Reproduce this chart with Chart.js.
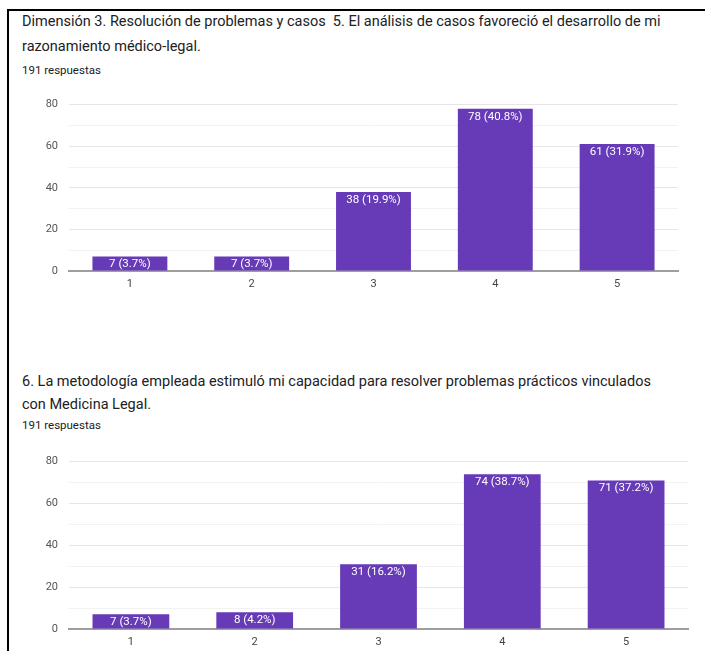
<!DOCTYPE html>
<html>
<head>
<meta charset="utf-8">
<script src="https://cdn.jsdelivr.net/npm/chart.js@4/dist/chart.umd.min.js"></script>
<style>
  html, body { margin: 0; padding: 0; background: #fff; }
  body { width: 705px; height: 651px; position: relative; overflow: hidden; font-family: Roboto, "Noto Sans", sans-serif; }
  .frame-top { position: absolute; left: 7px; top: 9px; width: 698px; height: 2px; background: #000; }
  .frame-left { position: absolute; left: 7px; top: 9px; width: 2px; height: 642px; background: #000; }
  .title { position: absolute; left: 22px; font-size: 14.5px; color: #202124; line-height: 20px; white-space: nowrap; }
  .sub { position: absolute; left: 22px; font-size: 11.5px; color: #202124; line-height: 14px; white-space: nowrap; }
  canvas { position: absolute; left: 0; }
</style>
</head>
<body>
<div class="frame-top"></div>
<div class="frame-left"></div>

<div class="title" style="top:12px">Dimensión 3. Resolución de problemas y casos&nbsp; 5. El análisis de casos favoreció el desarrollo de mi</div>
<div class="title" style="top:37px">razonamiento médico-legal.</div>
<div class="sub" style="top:63px">191 respuestas</div>
<canvas id="c1" width="705" height="209" style="top:87px"></canvas>

<div class="title" style="top:372px">6. La metodología empleada estimuló mi capacidad para resolver problemas prácticos vinculados</div>
<div class="title" style="top:395px">con Medicina Legal.</div>
<div class="sub" style="top:418px">191 respuestas</div>
<canvas id="c2" width="705" height="210" style="top:444px"></canvas>

<script>
// Likert answer options and response counts
const categories = ['1', '2', '3', '4', '5'];
const countsQ5 = [7, 7, 38, 78, 61];
const countsQ6 = [7, 8, 31, 74, 71];
const totalResponses = 191;
const yTicks = [0, 20, 40, 60, 80];

const PURPLE = '#673ab7';

// Writes "n (p%)" in white just inside the top of each bar
const barValueLabels = {
  id: 'barValueLabels',
  afterDatasetsDraw(chart) {
    const ctx = chart.ctx;
    const meta = chart.getDatasetMeta(0);
    const data = chart.data.datasets[0].data;
    ctx.save();
    ctx.fillStyle = '#ffffff';
    ctx.font = '11.5px Roboto, "Noto Sans", sans-serif';
    ctx.textAlign = 'center';
    ctx.textBaseline = 'middle';
    meta.data.forEach((bar, i) => {
      const v = data[i];
      const pct = (v / totalResponses * 100).toFixed(1);
      ctx.fillText(v + ' (' + pct + '%)', bar.x, bar.y + 8);
    });
    ctx.restore();
  }
};

function makeChart(id, counts, opts) {
  return new Chart(document.getElementById(id), {
    type: 'bar',
    data: {
      labels: categories,
      datasets: [{
        data: counts,
        backgroundColor: PURPLE,
        borderWidth: 0,
        categoryPercentage: 1,
        barPercentage: opts.barPct
      }]
    },
    options: {
      responsive: false,
      animation: false,
      layout: { padding: { left: 0, right: opts.padRight, top: opts.padTop, bottom: 0 } },
      plugins: { legend: { display: false }, tooltip: { enabled: false } },
      scales: {
        x: {
          grid: { display: false, drawTicks: false },
          border: { display: true, color: '#9e9e9e', width: 2 },
          ticks: { color: '#444', font: { size: 11, family: 'Roboto' }, padding: 7 },
          afterFit(s) { s.height = opts.xHeight; }
        },
        y: {
          min: 0,
          max: 80,
          afterBuildTicks(s) {
            const t = [];
            for (let v = 0; v <= 80; v += 10) t.push({ value: v });
            s.ticks = t;
          },
          grid: {
            drawTicks: false,
            color: (c) => (yTicks.includes(c.tick.value) ? '#e6e6e6' : '#f2f2f2'),
            lineWidth: 1
          },
          border: { display: false },
          ticks: {
            color: '#555',
            font: { size: 11, family: 'Roboto' },
            padding: 11,
            callback: (v) => (yTicks.includes(v) ? String(v) : '')
          },
          afterFit(s) { s.width = 69; }
        }
      }
    },
    plugins: [barValueLabels]
  });
}

makeChart('c1', countsQ5, { barPct: 0.615, padRight: 27, padTop: 14, xHeight: 25 });
makeChart('c2', countsQ6, { barPct: 0.62, padRight: 17, padTop: 11, xHeight: 25 });
</script>
</body>
</html>
